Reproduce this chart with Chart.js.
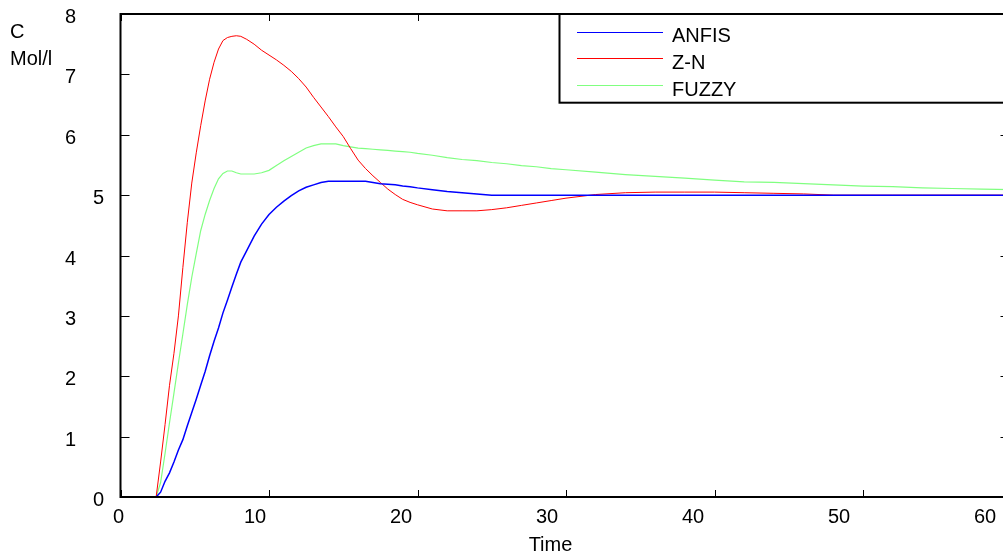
<!DOCTYPE html>
<html>
<head>
<meta charset="utf-8">
<script src="https://cdn.jsdelivr.net/npm/chart.js@4.4.1/dist/chart.umd.min.js"></script>
<style>
  html, body { margin: 0; padding: 0; background: #fff; overflow: hidden; width: 1003px; height: 554px; }
  #wrap { position: absolute; left: 0; top: 0; width: 1030px; height: 554px; }
</style>
</head>
<body>
<div id="wrap"><canvas id="c" width="1030" height="554"></canvas></div>
<script>
// ---- data ----
const time = [0, 2.4, 2.7, 3.0, 3.3, 3.6, 3.9, 4.2, 4.5, 4.8, 5.1, 5.4, 5.7, 6.0, 6.3, 6.6, 6.9, 7.2, 7.5, 7.8, 8.1,
  8.5, 9, 9.5, 10, 10.5, 11, 11.5, 12, 12.5, 13, 13.5, 14, 14.5, 15, 15.5, 16, 16.5, 17, 17.5, 18, 18.5, 19, 19.5, 20,
  21, 22, 23, 24, 25, 26, 27, 28, 29, 30,
  32, 34, 36, 38, 40, 42, 44, 46, 48, 50, 52, 54, 56, 58, 60];

const anfis = [0, 0, 0.08, 0.26, 0.40, 0.58, 0.78, 0.95, 1.18, 1.40, 1.62, 1.85, 2.08, 2.34, 2.58, 2.80, 3.05, 3.26, 3.48, 3.69, 3.89,
  4.08, 4.32, 4.52, 4.68, 4.80, 4.90, 4.99, 5.07, 5.13, 5.17, 5.21, 5.23, 5.23, 5.23, 5.23, 5.23, 5.23, 5.21, 5.19, 5.18, 5.17, 5.15, 5.14, 5.12,
  5.09, 5.06, 5.04, 5.02, 5.0, 5.0, 5.0, 5.0, 5.0, 5.0,
  5.0, 5.0, 5.0, 5.0, 5.0, 5.0, 5.0, 5.0, 5.0, 5.0, 5.0, 5.0, 5.0, 5.0, 5.0];

const zn = [0, 0, 0.58, 1.2, 1.85, 2.38, 3.0, 3.8, 4.55, 5.2, 5.7, 6.15, 6.56, 6.92, 7.2, 7.42, 7.56, 7.61, 7.63, 7.64, 7.63,
  7.58, 7.50, 7.40, 7.32, 7.24, 7.15, 7.05, 6.93, 6.79, 6.62, 6.46, 6.30, 6.13, 5.97, 5.77, 5.58, 5.44, 5.32, 5.21, 5.10, 5.01, 4.93, 4.88, 4.84,
  4.77, 4.74, 4.74, 4.74, 4.76, 4.79, 4.83, 4.87, 4.91, 4.95,
  5.01, 5.04, 5.05, 5.05, 5.05, 5.04, 5.03, 5.02, 5.0, 5.0, 5.0, 5.0, 5.0, 5.0, 5.0];

const fuzzy = [0, 0, 0.24, 0.72, 1.23, 1.72, 2.22, 2.70, 3.19, 3.64, 4.03, 4.41, 4.68, 4.91, 5.11, 5.27, 5.36, 5.40, 5.40, 5.37, 5.35,
  5.35, 5.35, 5.37, 5.41, 5.49, 5.57, 5.64, 5.71, 5.78, 5.82, 5.85, 5.85, 5.85, 5.82, 5.80, 5.78, 5.77, 5.76, 5.75, 5.74, 5.73, 5.72, 5.71, 5.69,
  5.66, 5.62, 5.59, 5.57, 5.54, 5.52, 5.49, 5.47, 5.44, 5.42,
  5.38, 5.34, 5.31, 5.28, 5.25, 5.22, 5.21, 5.19, 5.17, 5.15, 5.14, 5.12, 5.11, 5.10, 5.09];

const seriesNames = ['ANFIS', 'Z-N', 'FUZZY'];
const xTicks = [0, 10, 20, 30, 40, 50, 60];
const yTicks = [0, 1, 2, 3, 4, 5, 6, 7, 8];
const yAxisTitle = ['C', 'Mol/l'];
const xAxisTitle = 'Time';

// ---- chart ----
const FONT = '20px "Liberation Sans", Arial, Helvetica, sans-serif';
const pts = arr => time.map((t, i) => ({ x: t, y: arr[i] }));

const framePlugin = {
  id: 'frame',
  beforeDatasetsDraw(chart) {
    const { ctx, chartArea: a, scales: { x, y } } = chart;
    ctx.save();
    ctx.strokeStyle = '#000';
    ctx.lineWidth = 1;
    // ticks
    yTicks.forEach(v => {
      const py = Math.round(y.getPixelForValue(v)) + 0.5;
      ctx.beginPath();
      ctx.moveTo(a.left, py); ctx.lineTo(a.left + 9, py);
      ctx.moveTo(a.right, py); ctx.lineTo(a.right - 11, py);
      ctx.stroke();
    });
    xTicks.forEach(v => {
      const px = Math.round(x.getPixelForValue(v)) + 0.5;
      ctx.beginPath();
      ctx.moveTo(px, a.bottom); ctx.lineTo(px, a.bottom - 7);
      ctx.moveTo(px, a.top); ctx.lineTo(px, a.top + 7);
      ctx.stroke();
    });
    ctx.restore();
  },
  afterDatasetsDraw(chart) {
    const { ctx, chartArea: a, scales: { x, y } } = chart;
    ctx.save();
    // frame
    ctx.strokeStyle = '#000';
    ctx.lineWidth = 2;
    ctx.strokeRect(a.left, a.top, a.right - a.left, a.bottom - a.top);

    ctx.fillStyle = '#000';
    ctx.font = FONT;
    // y tick labels
    ctx.textAlign = 'center';
    ctx.textBaseline = 'alphabetic';
    yTicks.forEach(v => {
      const py = y.getPixelForValue(v);
      const lx = (v === 5 || v === 0) ? a.left - 22 : a.left - 50;
      ctx.fillText(String(v), lx, py + 9);
    });
    // x tick labels
    xTicks.forEach(v => {
      const px = x.getPixelForValue(v);
      const off = v === 0 ? -2 : -14 - (v - 10) * 0.25;
      ctx.fillText(String(v), px + off, a.bottom + 26);
    });
    // axis titles
    ctx.textAlign = 'left';
    ctx.fillText(yAxisTitle[0], 10, 38);
    ctx.fillText(yAxisTitle[1], 10, 65);
    ctx.textAlign = 'center';
    ctx.fillText(xAxisTitle, 550.5, 551);

    // legend box
    const bx = 559.5, by = a.top, bw = 470, bh = 102.7 - a.top;
    ctx.fillStyle = '#fff';
    ctx.fillRect(bx, by, bw, bh);
    ctx.strokeStyle = '#000';
    ctx.lineWidth = 2;
    ctx.strokeRect(bx, by, bw, bh);
    const rows = [31.7, 58.3, 85.3];
    chart.data.datasets.forEach((ds, i) => {
      const ly = Math.round(rows[i]) + 0.5;
      ctx.strokeStyle = ds.borderColor;
      ctx.lineWidth = 1;
      ctx.beginPath();
      ctx.moveTo(577, ly); ctx.lineTo(663, ly);
      ctx.stroke();
      ctx.fillStyle = '#000';
      ctx.textAlign = 'left';
      ctx.fillText(ds.label, 672, rows[i] + 10.3);
    });
    ctx.restore();
  }
};

new Chart(document.getElementById('c'), {
  type: 'line',
  data: {
    datasets: [
      { label: seriesNames[0], data: pts(anfis), borderColor: '#0000ff', borderWidth: 1.5, order: 0 },
      { label: seriesNames[1], data: pts(zn), borderColor: '#ff0000', borderWidth: 1, order: 1 },
      { label: seriesNames[2], data: pts(fuzzy), borderColor: '#80ff80', borderWidth: 1.2, order: 2 }
    ]
  },
  options: {
    responsive: false,
    animation: false,
    devicePixelRatio: 1,
    layout: { padding: { left: 120.5, right: 18.5, top: 14, bottom: 57 } },
    elements: { point: { radius: 0 }, line: { tension: 0, fill: false } },
    plugins: { legend: { display: false }, tooltip: { enabled: false } },
    scales: {
      x: { type: 'linear', min: 0, max: 60, display: false },
      y: { type: 'linear', min: 0, max: 8, display: false }
    }
  },
  plugins: [framePlugin]
});
</script>
</body>
</html>
